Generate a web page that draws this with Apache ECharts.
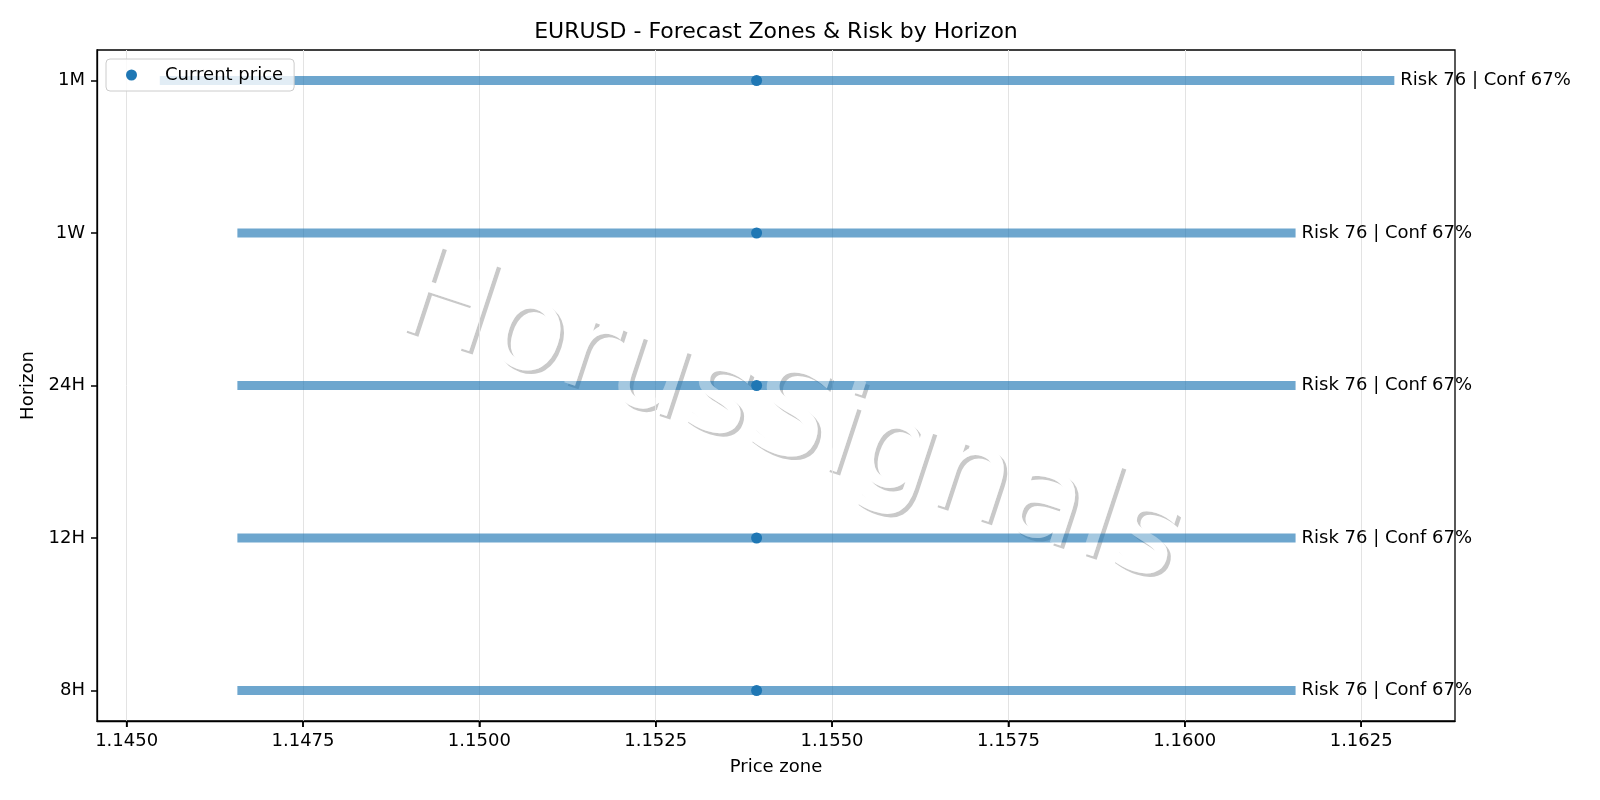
<!DOCTYPE html>
<html><head><meta charset="utf-8">
<script src="https://cdn.jsdelivr.net/npm/echarts@6/dist/echarts.min.js"></script>
<style>html,body{margin:0;padding:0;background:#fff}#c{width:1600px;height:800px}</style>
</head><body><div id="c"></div>
<script>
const horizons = ['8H', '12H', '24H', '1W', '1M'];
const zoneLow = [1.14657, 1.14657, 1.14657, 1.14657, 1.14547];
const zoneHigh = [1.16157, 1.16157, 1.16157, 1.16157, 1.16297];
const currentPrice = [1.15393, 1.15393, 1.15393, 1.15393, 1.15393];
const riskScore = [76, 76, 76, 76, 76];
const confidence = [67, 67, 67, 67, 67];
const xTicks = [1.1450, 1.1475, 1.1500, 1.1525, 1.1550, 1.1575, 1.1600, 1.1625];
const yTicks = [0, 1, 2, 3, 4];
const titleText = 'EURUSD - Forecast Zones & Risk by Horizon';
const watermarkText = 'HorusSignals';

const FONT = '"DejaVu Sans", sans-serif';
const Y_MIN = -0.2, Y_MAX = 4.2;
const zoneData = horizons.map((h, i) => [zoneLow[i], zoneHigh[i], i, riskScore[i], confidence[i]]);
const priceData = horizons.map((h, i) => [currentPrice[i], i]);
const tickData = xTicks.map(v => [v, Y_MIN]);

const chart = echarts.init(document.getElementById('c'), null, {renderer: 'canvas'});
const rot = -18.2 * Math.PI / 180;
const wmFont = '125px ' + FONT;
const wmX = 789, wmY = 422;
chart.setOption({
  animation: false,
  backgroundColor: '#fff',
  textStyle: {fontFamily: FONT},
  title: {
    text: titleText, left: 776, top: 21, textAlign: 'center', padding: 0,
    textStyle: {fontFamily: FONT, fontSize: 22, fontWeight: 'normal', color: '#000'}
  },
  legend: {
    data: ['Current price'], left: 106, top: 59, orient: 'vertical',
    padding: [7, 11, 7, 20], itemWidth: 57, itemHeight: 11, icon: 'circle',
    backgroundColor: 'rgba(255,255,255,0.8)', borderColor: '#cccccc', borderWidth: 1, borderRadius: 4,
    textStyle: {fontFamily: FONT, fontSize: 18, color: '#000', lineHeight: 18}
  },
  grid: {left: 97, right: 145, top: 50, bottom: 79, show: true, borderColor: '#000', borderWidth: 1.3, backgroundColor: 'transparent', containLabel: false, outerBoundsMode: 'none'},
  xAxis: {
    type: 'value', position: 'bottom', min: 1.14458, max: 1.16383,
    name: 'Price zone', nameLocation: 'middle', nameGap: 37,
    nameTextStyle: {fontFamily: FONT, fontSize: 18, color: '#000'},
    axisLine: {show: true, onZero: false, lineStyle: {color: '#000', width: 1.3}},
    axisTick: {show: true, inside: false, length: 6, customValues: xTicks, lineStyle: {color: '#000', width: 1.5}},
    minorTick: {show: false},
    axisLabel: {customValues: xTicks, margin: 11, fontFamily: FONT, fontSize: 18, color: '#000', formatter: v => v.toFixed(4)},
    splitLine: {show: true, lineStyle: {color: '#e3e3e3', width: 1}}
  },
  yAxis: {
    type: 'value', position: 'left', min: Y_MIN, max: Y_MAX,
    name: 'Horizon', nameLocation: 'middle', nameGap: 54, nameRotate: 90,
    nameTextStyle: {fontFamily: FONT, fontSize: 18, color: '#000'},
    axisLine: {show: true, onZero: false, lineStyle: {color: '#000', width: 1.3}},
    axisTick: {show: true, inside: false, length: 6, customValues: yTicks, lineStyle: {color: '#000', width: 1.5}},
    axisLabel: {customValues: yTicks, margin: 12, fontFamily: FONT, fontSize: 18, color: '#000', formatter: v => horizons[Math.round(v)]},
    splitLine: {show: false}
  },
  graphic: [
    {type: 'text', x: wmX + 3.5, y: wmY + 3.5, rotation: rot, z: -3, silent: true,
     style: {text: watermarkText, font: wmFont, fill: 'rgba(77,77,77,0.3)', align: 'center', verticalAlign: 'middle'}},
    {type: 'text', x: wmX, y: wmY, rotation: rot, z: -2, silent: true,
     style: {text: watermarkText, font: wmFont, fill: '#ffffff', align: 'center', verticalAlign: 'middle'}},
    {type: 'text', x: wmX, y: wmY, rotation: rot, z: 3, silent: true,
     style: {text: watermarkText, font: wmFont, fill: 'rgba(255,255,255,0.38)', align: 'center', verticalAlign: 'middle'}}
  ],
  series: [
    {
      type: 'custom', name: 'Zones', z: 1, clip: false,
      encode: {x: [0, 1], y: 2},
      data: zoneData,
      renderItem: function (params, api) {
        const p0 = api.coord([api.value(0), api.value(2)]);
        const p1 = api.coord([api.value(1), api.value(2)]);
        return {
          type: 'group',
          children: [
            {type: 'line', shape: {x1: p0[0], y1: p0[1], x2: p1[0], y2: p1[1]},
             style: {stroke: 'rgba(31,119,180,0.65)', lineWidth: 9, lineCap: 'butt'}},
            {type: 'text', x: p1[0] + 6, y: p1[1],
             style: {text: 'Risk ' + api.value(3) + ' | Conf ' + api.value(4) + '%', font: '18px ' + FONT, fill: '#000', align: 'left', verticalAlign: 'middle'}}
          ]
        };
      }
    },
    {
      type: 'custom', name: 'xTickMarks', z: 6, clip: false, silent: true,
      encode: {x: 0, y: 1},
      data: tickData,
      renderItem: function (params, api) {
        const p = api.coord([api.value(0), api.value(1)]);
        return {type: 'line', shape: {x1: p[0], y1: p[1], x2: p[0], y2: p[1] + 6},
                style: {stroke: '#000', lineWidth: 1.5}};
      }
    },
    {
      type: 'scatter', name: 'Current price', z: 5,
      data: priceData, symbol: 'circle', symbolSize: 11,
      itemStyle: {color: '#1f77b4', opacity: 1}
    }
  ]
});
</script>
</body></html>
